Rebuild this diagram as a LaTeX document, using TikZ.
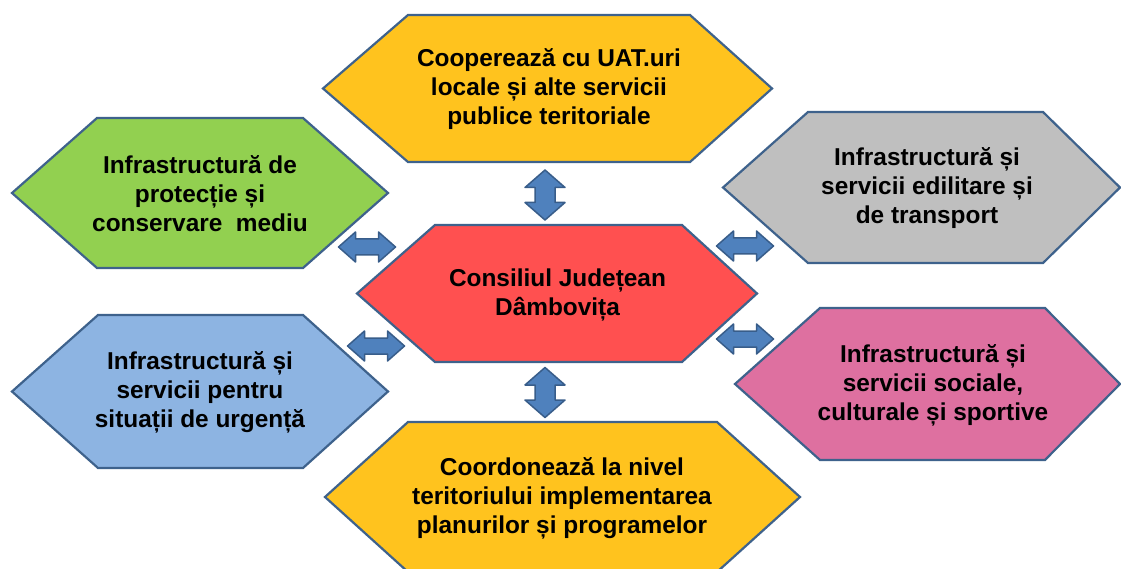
\documentclass[tikz,border=0pt]{standalone}
\usepackage{fontspec}
\setmainfont{Liberation Sans}
\definecolor{hexline}{RGB}{62,98,140}
\definecolor{arrfill}{RGB}{79,129,189}
\definecolor{arrline}{RGB}{56,93,138}
\definecolor{cyellow}{RGB}{255,195,30}
\definecolor{cgreen}{RGB}{146,208,80}
\definecolor{cgray}{RGB}{191,191,191}
\definecolor{cred}{RGB}{255,80,80}
\definecolor{cblue}{RGB}{141,180,226}
\definecolor{cpink}{RGB}{222,112,160}
\begin{document}
\begin{tikzpicture}[x=1pt,y=-1pt,
  hex/.style={draw=hexline, line width=2.2pt, line join=miter},
  lbl/.style={align=center, font=\bfseries\fontsize{24.4}{29}\selectfont, text=black, inner sep=0pt},
  arr/.style={fill=arrfill, draw=arrline, line width=1.5pt, line join=round},
  harr/.pic={\path[arr] (-28.5,0) -- (-11.5,-15) -- (-11.5,-8) -- (11.5,-8) -- (11.5,-15) -- (28.5,0) -- (11.5,15) -- (11.5,8) -- (-11.5,8) -- (-11.5,15) -- cycle;},
  varr/.pic={\path[arr] (0,-25) -- (20,-7.5) -- (10,-7.5) -- (10,7.5) -- (20,7.5) -- (0,25) -- (-20,7.5) -- (-10,7.5) -- (-10,-7.5) -- (-20,-7.5) -- cycle;}
]
\useasboundingbox (0,0) rectangle (1121,569);
\clip (0,0) rectangle (1121,569);
\fill[white] (0,0) rectangle (1121,569);

% hexagons
\path[hex, fill=cyellow] (323,88.5) -- (408,15) -- (690,15) -- (772,88.5) -- (690,162) -- (408,162) -- cycle;
\path[hex, fill=cgreen] (12,193) -- (97,118) -- (303,118) -- (388,193) -- (303,268) -- (97,268) -- cycle;
\path[hex, fill=cgray] (723,187.5) -- (808,112) -- (1043,112) -- (1120,187.5) -- (1043,263) -- (808,263) -- cycle;
\path[hex, fill=cred] (357,293.5) -- (435,225) -- (682,225) -- (757,293.5) -- (682,362) -- (435,362) -- cycle;
\path[hex, fill=cblue] (12,391.5) -- (98,315) -- (303,315) -- (388,391.5) -- (303,468) -- (98,468) -- cycle;
\path[hex, fill=cpink] (735,384) -- (820,308) -- (1045,308) -- (1120,384) -- (1045,460) -- (820,460) -- cycle;
\path[hex, fill=cyellow] (325,497) -- (408,422) -- (717,422) -- (800,497) -- (717,572) -- (408,572) -- cycle;

% labels
\node[lbl] (coop) at (549,89) {Coopereaz\u a cu UAT.uri\\locale și alte servicii\\publice teritoriale};
\node[lbl] (mediu) at (200,194) {Infrastructură de\\protecție și\\conservare\ \ mediu};
\node[lbl] (edil) at (927,188) {Infrastructură și\\servicii edilitare și\\de transport};
\node[lbl] (cj) at (557.5,295) {Consiliul Județean\\Dâmbovița};
\node[lbl] (urg) at (200,392) {Infrastructură și\\servicii pentru\\situații de urgență};
\node[lbl] (soc) at (933,385) {Infrastructură și\\servicii sociale,\\culturale și sportive};
\node[lbl] (coord) at (562,498) {Coordonează la nivel\\teritoriului implementarea\\planurilor și programelor};

% double arrows
\pic at (545,195) {varr};
\pic at (545,392.5) {varr};
\pic at (367,247) {harr};
\pic at (745,246) {harr};
\pic at (376,346) {harr};
\pic at (745,339) {harr};
\end{tikzpicture}
\end{document}
